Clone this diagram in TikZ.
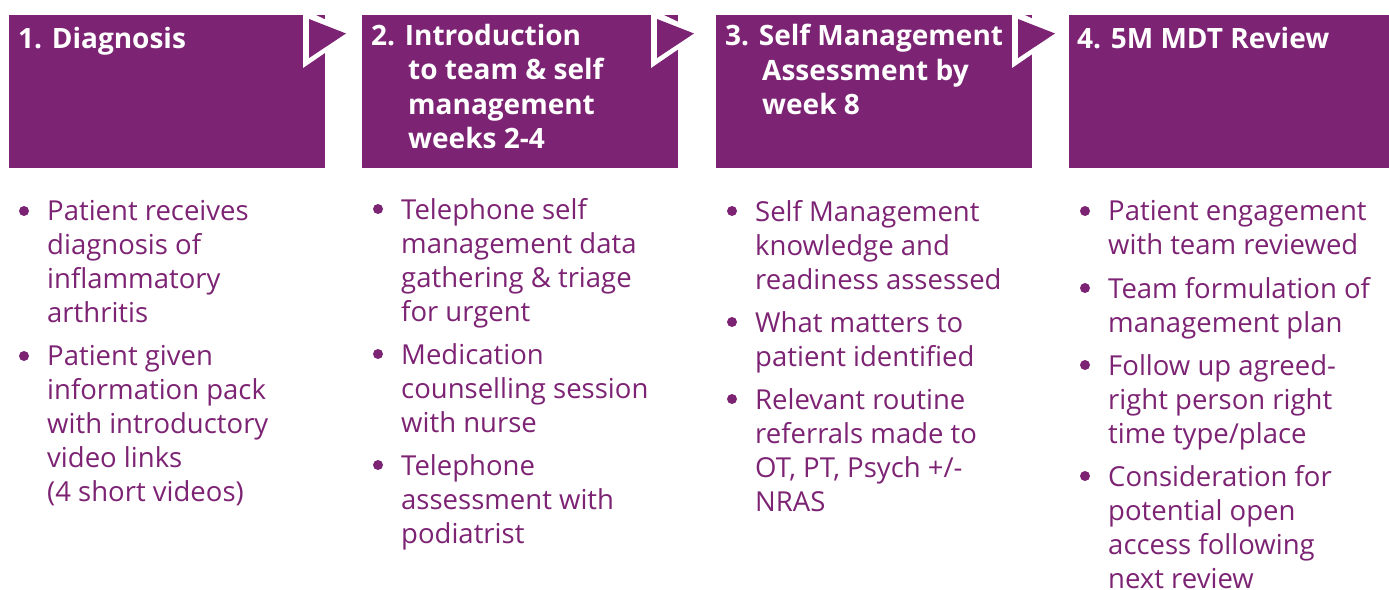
\documentclass[tikz,border=0pt]{standalone}
\usepackage{fontspec}
\setmainfont{Open Sans}
\definecolor{plum}{HTML}{7D2374}
\tikzset{
  stagebox/.style={fill=plum, draw=none, inner sep=0pt, anchor=north west,
    minimum width=316pt, minimum height=153pt},
  % first-line strut: the node's top lies 24pt above the first baseline
  stagetitle/.style={anchor=north west, inner sep=0pt, text=white, align=left,
    font=\fontsize{28}{34.4}\selectfont\bfseries,
    execute at begin node=\rule{0pt}{24pt}},
  itemtext/.style={anchor=north west, inner sep=0pt, text=plum, align=left,
    font=\fontsize{27.5}{34}\selectfont,
    execute at begin node=\rule{0pt}{24pt}},
  bulletdot/.style={circle, fill=plum, inner sep=0pt, minimum size=10pt},
  pointer/.style={fill=white},
  pointerfill/.style={fill=plum}
}
\newcommand{\stagepointer}[1]{%
  \fill[pointer] (#1-49,9) -- (#1-49,68) -- (#1+2,33) -- cycle;
  \fill[pointerfill] (#1-43,19) -- (#1-43,58) -- (#1-6,33.5) -- cycle;}
\begin{document}
\begin{tikzpicture}[x=1pt,y=-1pt]
\useasboundingbox (0,0) rectangle (1389,589);
\clip (0,0) rectangle (1389,589);

% stage boxes
\node[stagebox] (s1) at (9,15) {};
\node[stagebox] (s2) at (362,15) {};
\node[stagebox] (s3) at (716,15) {};
\node[stagebox, minimum width=320pt] (s4) at (1069,15) {};

% pointers between stages
\stagepointer{352}
\stagepointer{700}
\stagepointer{1061}

% stage titles
\node[stagetitle] (t1) at (18,24) {1. Diagnosis};
\node[stagetitle] (t2) at (371,24) {2. Introduction\\\hspace*{37pt}to team \& self\\\hspace*{37pt}management\\\hspace*{37pt}weeks 2-4};
\node[stagetitle] (t3) at (725,24) {3. Self Management\\\hspace*{37pt}Assessment by\\\hspace*{37pt}week 8};
\node[stagetitle] (t4) at (1077,24) {4. 5M MDT Review};

% column 1
\node[itemtext] (a1) at (47,200) {Patient receives\\diagnosis of\\inflammatory\\arthritis};
\node[itemtext] (a2) at (47,345) {Patient given\\information pack\\with introductory\\video links\\(4 short videos)};
\node[bulletdot] (ba1) at (24,211) {};
\node[bulletdot] (ba2) at (24,356) {};

% column 2
\node[itemtext] (b1) at (401,198) {Telephone self\\management data\\gathering \& triage\\for urgent};
\node[itemtext] (b2) at (401,343) {Medication\\counselling session\\with nurse};
\node[itemtext] (b3) at (401,454) {Telephone\\assessment with\\podiatrist};
\node[bulletdot] (bb1) at (378,209) {};
\node[bulletdot] (bb2) at (378,354) {};
\node[bulletdot] (bb3) at (378,465) {};

% column 3
\node[itemtext] (c1) at (755,200) {Self Management\\knowledge and\\readiness assessed};
\node[itemtext] (c2) at (755,311) {What matters to\\patient identified};
\node[itemtext] (c3) at (755,388) {Relevant routine\\referrals made to\\OT, PT, Psych +/-\\NRAS};
\node[bulletdot] (bc1) at (732,211) {};
\node[bulletdot] (bc2) at (732,322) {};
\node[bulletdot] (bc3) at (732,399) {};

% column 4
\node[itemtext] (d1) at (1108,200) {Patient engagement\\with team reviewed};
\node[itemtext] (d2) at (1108,277) {Team formulation of\\management plan};
\node[itemtext] (d3) at (1108,354) {Follow up agreed-\\right person right\\time type/place};
\node[itemtext] (d4) at (1108,465) {Consideration for\\potential open\\access following\\next review};
\node[bulletdot] (bd1) at (1085,211) {};
\node[bulletdot] (bd2) at (1085,288) {};
\node[bulletdot] (bd3) at (1085,365) {};
\node[bulletdot] (bd4) at (1085,476) {};
\end{tikzpicture}
\end{document}
